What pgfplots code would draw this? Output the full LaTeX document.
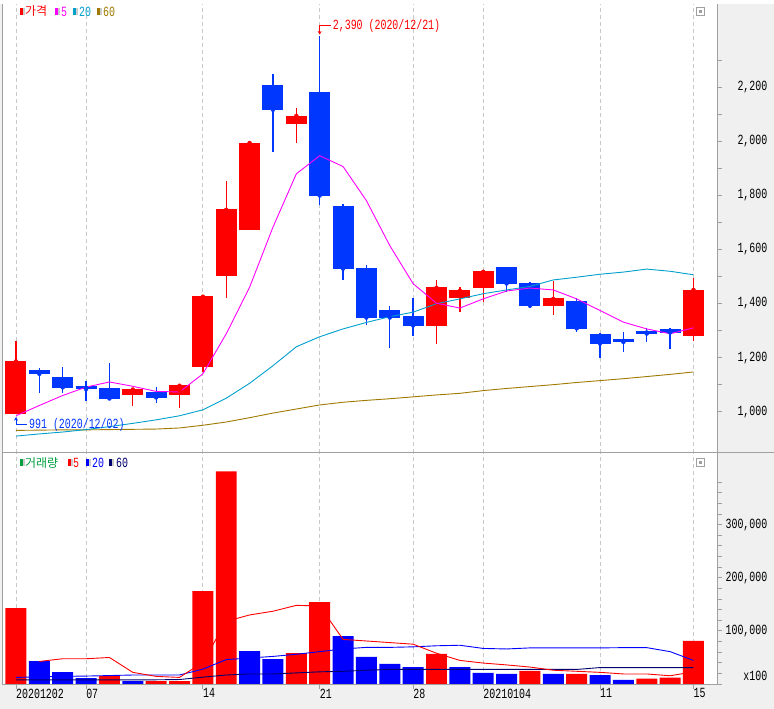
\documentclass[border=0pt]{standalone}
\usepackage{pgfplots}
\pgfplotsset{compat=1.18}
\usepackage{pgfplotstable}
\usepackage{fontspec}
\usetikzlibrary{arrows.meta}
\setmainfont{Liberation Sans}
\newfontfamily\monofont[FakeStretch=0.71]{Liberation Mono}
\newfontfamily\krfont{Noto Sans CJK KR}
\newcommand\nf{\monofont\fontsize{14}{14}\selectfont}
\newcommand\kf{\krfont\fontsize{12}{13}\selectfont}
\definecolor{cred}{RGB}{255,0,0}
\definecolor{cblue}{RGB}{0,55,255}
\definecolor{vblue}{RGB}{0,0,255}
\definecolor{ma5}{RGB}{255,0,255}
\definecolor{ma20}{RGB}{0,160,205}
\definecolor{ma60}{RGB}{160,122,0}
\definecolor{vma60}{RGB}{0,0,110}
\definecolor{vgreen}{RGB}{0,160,64}
\definecolor{bg}{RGB}{240,240,240}
\definecolor{framec}{RGB}{160,160,160}
\definecolor{gridc}{RGB}{200,200,200}

\pgfplotstableread{
i o h l c
0 993 1262 991 1186
5 1064 1082 1023 1082
7 1064 1096 1012 1096
8 1166 1425 1148 1425
9 1503 1853 1421 1746
10 1673 1998 1673 1993
12 2063 2124 1994 2093
18 1319 1487 1252 1458
19 1422 1461 1370 1447
20 1459 1517 1404 1517
23 1392 1484 1359 1417
29 1282 1495 1260 1450
}\redc

\pgfplotstableread{
i o h l c
1 1151 1162 1070 1140
2 1127 1167 1070 1090
3 1093 1112 1038 1084
4 1085 1181 1049 1049
6 1073 1092 1034 1053
11 2204 2248 1961 2116
13 2181 2390 1765 1799
14 1757 1768 1485 1529
15 1528 1543 1319 1348
16 1373 1391 1237 1348
17 1351 1421 1278 1319
21 1532 1532 1442 1474
22 1476 1480 1385 1392
24 1406 1421 1293 1308
25 1284 1292 1197 1252
26 1266 1295 1219 1258
27 1296 1310 1258 1289
28 1306 1311 1230 1293
}\bluec

\pgfplotstableread{
i m5 m20 m60
0 985 910 931
1 1023 918 932
2 1060 925 933
3 1091 934 933
4 1110 945 934
5 1094 957 935
6 1075 970 936
7 1073 985 940
8 1140 1007 950
9 1288 1050 962
10 1460 1105 978
11 1682 1170 995
12 1879 1240 1010
13 1946 1277 1025
14 1906 1306 1035
15 1780 1330 1042
16 1614 1351 1048
17 1473 1368 1055
18 1401 1399 1062
19 1383 1417 1068
20 1417 1436 1078
21 1446 1450 1086
22 1457 1463 1093
23 1450 1487 1100
24 1417 1497 1108
25 1374 1508 1115
26 1331 1516 1122
27 1306 1527 1130
28 1288 1519 1138
29 1310 1506 1147
}\pma

\pgfplotstableread{
i v
0 143000
4 15000
6 5600
7 5600
8 175000
9 400000
12 58000
13 154000
18 57000
22 25000
24 19000
27 10000
28 12000
29 81000
}\volr

\pgfplotstableread{
i v
1 43000
2 22600
3 11300
5 5600
10 62000
11 47000
14 90000
15 51000
16 38000
17 32000
19 32000
20 21000
21 19000
23 19000
25 17000
26 8000
}\volb

\pgfplotstableread{
i m5 m20 m60
0 nan 12500 8000
1 42600 13500 8000
2 47600 14500 8000
3 47600 15000 8000
4 50000 16000 8000
5 22000 17000 8000
6 14400 17000 8000
7 12500 17000 8500
8 41000 28000 13000
9 118000 46000 17000
10 130000 49000 19000
11 137000 52000 19000
12 148000 56000 21000
13 147000 61000 23000
14 84000 66000 24000
15 81000 69000 26000
16 78000 69000 27500
17 75000 70000 27500
18 58000 72000 27500
19 44500 73000 27500
20 39500 67000 27500
21 36000 66000 27500
22 32000 68000 27500
23 26000 68000 27500
24 24000 68000 27500
25 22000 68000 31000
26 19000 68500 31000
27 19000 68500 31000
28 15600 61000 31000
29 23000 44500 31000
}\vma

\begin{document}
\begin{tikzpicture}[x=1pt,y=1pt]
\fill[bg] (0,0) rectangle (774,705);
\fill[white] (3,24) rectangle (718,705);

% ---------------- price panel ----------------
\begin{axis}[
  at={(3pt,256pt)}, anchor=south west,
  scale only axis, width=715pt, height=449pt,
  xmin=-0.556, xmax=30.03, ymin=848.6, ymax=2506.6,
  axis line style={draw=none},
  xtick={0,3,8,13,17,20,25,29}, xticklabels={},
  xtick style={draw=none},
  xmajorgrids,
  grid style={gridc, dash pattern=on 4pt off 3pt, line width=0.9pt},
  ytick={1000,1200,1400,1600,1800,2000,2200},
  minor ytick={1100,1300,1500,1700,1900,2100,2300},
  ytick pos=right, yticklabel pos=right,
  tick align=outside, major tick length=4pt, minor tick length=4pt,
  ytick style={framec, line width=0.8pt},
  yticklabel style={font=\nf, anchor=east, inner sep=0pt, xshift=46pt},
  /pgf/number format/.cd, 1000 sep={,}, assume math mode=true,
]
% wicks
\addplot[cred, only marks, mark=none, forget plot,
  error bars/.cd, y dir=both, y explicit, error mark=none,
  error bar style={line width=1.3pt, cred}]
  table[x=i, y=c, y error plus expr={\thisrow{h}-\thisrow{c}}, y error minus expr={\thisrow{c}-\thisrow{l}}] {\redc};
\addplot[cblue, only marks, mark=none, forget plot,
  error bars/.cd, y dir=both, y explicit, error mark=none,
  error bar style={line width=1.3pt, cblue}]
  table[x=i, y=c, y error plus expr={\thisrow{h}-\thisrow{c}}, y error minus expr={\thisrow{c}-\thisrow{l}}] {\bluec};
% bodies
\addplot[cred, only marks, mark=none, forget plot,
  error bars/.cd, y dir=both, y explicit, error mark=none,
  error bar style={line width=21pt, cred}]
  table[x=i, y expr={(\thisrow{o}+\thisrow{c})/2}, y error expr={abs(\thisrow{c}-\thisrow{o})/2+1.5}] {\redc};
\addplot[cblue, only marks, mark=none, forget plot,
  error bars/.cd, y dir=both, y explicit, error mark=none,
  error bar style={line width=21pt, cblue}]
  table[x=i, y expr={(\thisrow{o}+\thisrow{c})/2}, y error expr={abs(\thisrow{c}-\thisrow{o})/2+1.5}] {\bluec};
% moving averages
\addplot[ma60, line width=0.9pt, mark=none] table[x=i, y=m60] {\pma};
\addplot[ma20, line width=0.9pt, mark=none] table[x=i, y=m20] {\pma};
\addplot[ma5, line width=0.9pt, mark=none] table[x=i, y=m5] {\pma};
% annotations
\draw[cred, line width=0.9pt, -{Stealth[length=3.5pt,width=4pt]}]
  ([xshift=11pt, yshift=10pt]axis cs:13,2390) -- ([yshift=10pt]axis cs:13,2390) -- ([yshift=1pt]axis cs:13,2390);
\node[cred, font=\nf, anchor=west, inner sep=0pt] at ([xshift=13pt, yshift=10pt]axis cs:13,2390) {2,390 (2020/12/21)};
\draw[cblue, line width=0.9pt, -{Stealth[length=3.5pt,width=4pt]}]
  ([xshift=11pt, yshift=-10.5pt]axis cs:0,991) -- ([yshift=-10.5pt]axis cs:0,991) -- ([yshift=-3pt]axis cs:0,991);
\node[cblue, font=\nf, anchor=west, inner sep=0pt] at ([xshift=13pt, yshift=-10.5pt]axis cs:0,991) {991 (2020/12/02)};
\end{axis}

% ---------------- volume panel ----------------
\begin{axis}[
  at={(3pt,24pt)}, anchor=south west,
  scale only axis, width=715pt, height=232pt,
  xmin=-0.556, xmax=30.03, ymin=-940, ymax=435200,
  axis line style={draw=none},
  xtick={0,3,8,13,17,20,25,29},
  xticklabels={20201202,07,14,21,28,20210104,11,15},
  xtick pos=bottom,
  xticklabel style={font=\nf, anchor=north west, inner sep=0pt},
  xtick style={framec, line width=0.8pt},
  xmajorgrids,
  grid style={gridc, dash pattern=on 4pt off 3pt, line width=0.9pt},
  ytick={100000,200000,300000},
  minor ytick={0,20000,...,380000},
  ytick pos=right, yticklabel pos=right,
  tick align=outside, major tick length=4pt, minor tick length=4pt,
  ytick style={framec, line width=0.8pt},
  yticklabel style={font=\nf, anchor=east, inner sep=0pt, xshift=46pt},
  scaled y ticks=false,
  /pgf/number format/.cd, 1000 sep={,}, fixed, assume math mode=true,
]
\addplot[ybar, bar width=21pt, bar shift=0pt, fill=cred, draw=none, forget plot] table[x=i, y=v] {\volr};
\addplot[ybar, bar width=21pt, bar shift=0pt, fill=vblue, draw=none, forget plot] table[x=i, y=v] {\volb};
\addplot[vma60, line width=0.9pt, mark=none] table[x=i, y=m60] {\vma};
\addplot[vblue, line width=0.9pt, mark=none] table[x=i, y=m20] {\vma};
\addplot[cred, line width=0.9pt, mark=none, unbounded coords=jump] table[x=i, y=m5] {\vma};
\end{axis}

% ---------------- frame ----------------
\draw[framec, line width=1pt] (3,24) -- (3,705);
\draw[framec, line width=1pt] (718,24) -- (718,705);
\draw[framec, line width=1pt] (3,256) -- (774,256);
\draw[framec, line width=1pt] (3,24) -- (718,24);

% panel buttons
\foreach \yy in {697.5, 246} {
  \draw[framec, line width=0.8pt] (697,\yy-4) rectangle (705,\yy+4);
  \fill[framec] (699.5,\yy-1.5) rectangle (702.5,\yy+1.5);
}

\node[font=\nf, anchor=east, inner sep=0pt] at (768,33) {x100};

% legends
\fill[gray!40] (22,694) rectangle (25,701);
\fill[cred] (20,694) rectangle (23,701);
\node[cred, font=\kf, anchor=west, inner sep=0pt] at (25,697.5) {가격};
\fill[gray!40] (57,694) rectangle (60,701);
\fill[ma5] (55,694) rectangle (58,701);
\node[ma5, font=\nf, anchor=west, inner sep=0pt] at (61,697.5) {5};
\fill[gray!40] (75,694) rectangle (78,701);
\fill[ma20] (73,694) rectangle (76,701);
\node[ma20, font=\nf, anchor=west, inner sep=0pt] at (79,697.5) {20};
\fill[gray!40] (99,694) rectangle (102,701);
\fill[ma60] (97,694) rectangle (100,701);
\node[ma60, font=\nf, anchor=west, inner sep=0pt] at (103,697.5) {60};

\fill[gray!40] (22,242.5) rectangle (25,249.5);
\fill[vgreen] (20,242.5) rectangle (23,249.5);
\node[vgreen, font=\kf, anchor=west, inner sep=0pt] at (25,246) {거래량};
\fill[gray!40] (70,242.5) rectangle (73,249.5);
\fill[cred] (68,242.5) rectangle (71,249.5);
\node[cred, font=\nf, anchor=west, inner sep=0pt] at (73,246) {5};
\fill[gray!40] (88,242.5) rectangle (91,249.5);
\fill[vblue] (86,242.5) rectangle (89,249.5);
\node[vblue, font=\nf, anchor=west, inner sep=0pt] at (92,246) {20};
\fill[gray!40] (111,242.5) rectangle (114,249.5);
\fill[vma60] (109,242.5) rectangle (112,249.5);
\node[vma60, font=\nf, anchor=west, inner sep=0pt] at (116,246) {60};
\end{tikzpicture}
\end{document}
